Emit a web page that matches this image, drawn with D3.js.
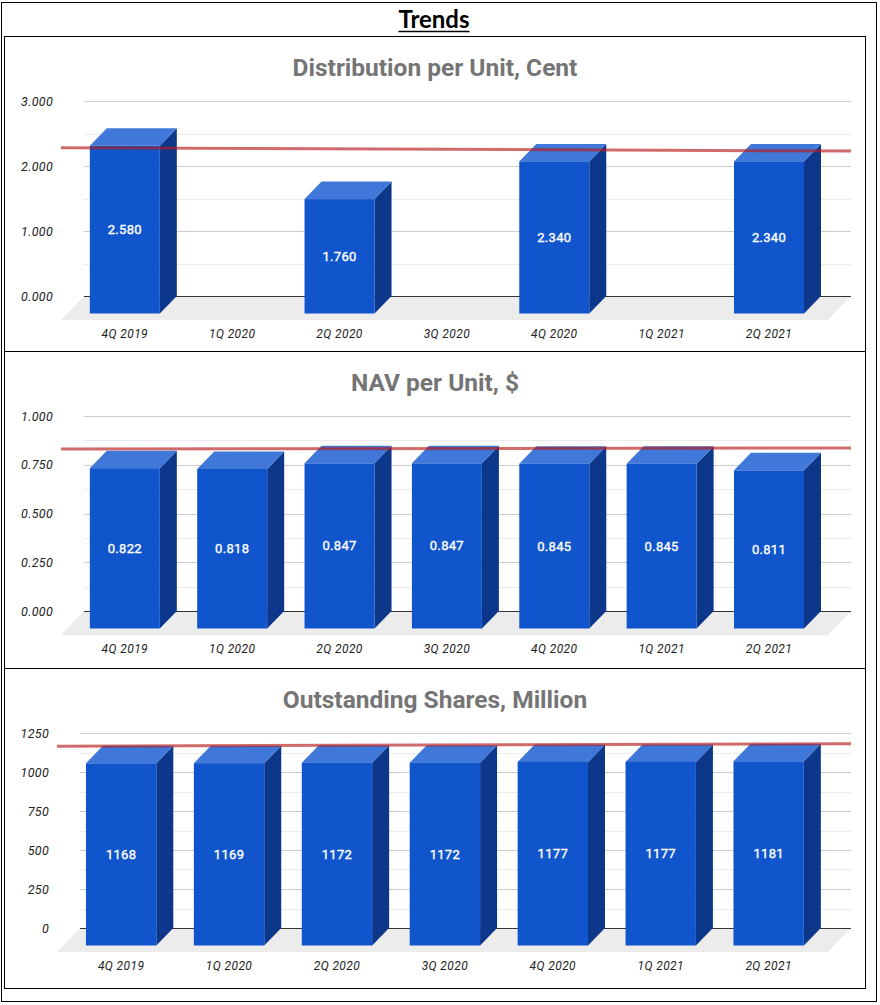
<!DOCTYPE html>
<html>
<head>
<meta charset="utf-8">
<script src="https://cdn.jsdelivr.net/npm/d3@7"></script>
<style>
  body { margin: 0; background: #fff; }
  svg { display: block; }
</style>
</head>
<body>
<div id="chart"></div>
<script>
// Chart data
var categories = ["4Q 2019", "1Q 2020", "2Q 2020", "3Q 2020", "4Q 2020", "1Q 2021", "2Q 2021"];
var distValues = [2.580, null, 1.760, null, 2.340, null, 2.340];
var navValues = [0.822, 0.818, 0.847, 0.847, 0.845, 0.845, 0.811];
var shareValues = [1168, 1169, 1172, 1172, 1177, 1177, 1181];

var distTicks = [0, 1, 2, 3];
var navTicks = [0, 0.25, 0.5, 0.75, 1];
var shareTicks = [0, 250, 500, 750, 1000, 1250];

var titles = ["Distribution per Unit, Cent", "NAV per Unit, $", "Outstanding Shares, Million"];

// Page size
var width = 880, height = 1005;

var svg = d3.select("#chart").append("svg")
    .attr("width", width)
    .attr("height", height);

// Outer frame
svg.append("rect")
    .attr("x", 1.5).attr("y", 2.5)
    .attr("width", 875).attr("height", 999)
    .attr("fill", "none").attr("stroke", "#000").attr("stroke-width", 1);

// Main heading
var heading = svg.append("text")
    .attr("x", 434).attr("y", 28)
    .attr("text-anchor", "middle")
    .attr("font-family", "Lato, 'Open Sans', sans-serif")
    .attr("font-weight", "bold")
    .attr("font-size", 24)
    .attr("fill", "#000")
    .text("Trends");
var hb = heading.node().getBBox();
svg.append("line")
    .attr("x1", hb.x).attr("x2", hb.x + hb.width)
    .attr("y1", 31.5).attr("y2", 31.5)
    .attr("stroke", "#000").attr("stroke-width", 1.6);

// 3D offsets (front face relative to back face, floor depth)
var barDx = -17, barDy = 17.5;
var floorDx = -23, floorDy = 24;

var colFront = "#1155cc", colTop = "#3f78d8", colSide = "#0c378a";

function drawPanel(opts) {
    var top = opts.top;
    var g = svg.append("g");

    // panel border
    g.append("rect")
        .attr("x", 4.5).attr("y", top + 0.5)
        .attr("width", 861).attr("height", opts.bottom - top)
        .attr("fill", "#fff").attr("stroke", "#000").attr("stroke-width", 1);

    // title
    g.append("text")
        .attr("x", 435).attr("y", top + 40)
        .attr("text-anchor", "middle")
        .attr("font-family", "Roboto, sans-serif")
        .attr("font-weight", "bold")
        .attr("font-size", 24.5)
        .attr("fill", "#757575")
        .text(opts.title);

    var plotLeft = opts.plotLeft, plotRight = 851;
    var y0px = top + 260, y1px = top + 65;
    var ticks = opts.ticks;

    var y = d3.scaleLinear()
        .domain([0, ticks[ticks.length - 1]])
        .range([y0px, y1px]);

    var x = d3.scaleBand()
        .domain(categories)
        .range([plotLeft, plotRight])
        .paddingInner(0.348)
        .paddingOuter(0.246)
        .align(0.432);
    var bw = x.bandwidth();

    // floor
    g.append("polygon")
        .attr("points", [
            [plotLeft, y0px], [plotRight, y0px],
            [plotRight + floorDx, y0px + floorDy], [plotLeft + floorDx, y0px + floorDy]
        ].join(" "))
        .attr("fill", "#ececec");

    // minor gridlines halfway between ticks
    var minor = d3.pairs(ticks).map(function (p) { return (p[0] + p[1]) / 2; });
    g.selectAll(".minor")
        .data(minor)
        .join("line")
        .attr("x1", plotLeft).attr("x2", plotRight)
        .attr("y1", function (d) { return Math.round(y(d)) + 0.5; })
        .attr("y2", function (d) { return Math.round(y(d)) + 0.5; })
        .attr("stroke", "#ebebeb");

    // major gridlines
    g.selectAll(".major")
        .data(ticks.slice(1))
        .join("line")
        .attr("x1", plotLeft).attr("x2", plotRight)
        .attr("y1", function (d) { return Math.round(y(d)) + 0.5; })
        .attr("y2", function (d) { return Math.round(y(d)) + 0.5; })
        .attr("stroke", "#cccccc");

    // baseline
    g.append("line")
        .attr("x1", plotLeft).attr("x2", plotRight)
        .attr("y1", Math.round(y0px) + 0.5).attr("y2", Math.round(y0px) + 0.5)
        .attr("stroke", "#333");

    // y axis labels
    g.selectAll(".ylab")
        .data(ticks)
        .join("text")
        .attr("x", plotLeft - 31)
        .attr("y", function (d) { return y(d) + 4.5; })
        .attr("text-anchor", "end")
        .attr("font-family", "Roboto, sans-serif")
        .attr("font-style", "italic")
        .attr("font-size", 12.5)
        .attr("letter-spacing", 0.3)
        .attr("fill", "#222")
        .text(function (d) { return d3.format(opts.fmt)(d); });

    // x axis labels
    g.selectAll(".xlab")
        .data(categories)
        .join("text")
        .attr("x", function (d) { return x(d) + barDx + bw / 2; })
        .attr("y", y0px + 41.5)
        .attr("text-anchor", "middle")
        .attr("font-family", "Roboto, sans-serif")
        .attr("font-style", "italic")
        .attr("font-size", 12)
        .attr("letter-spacing", 0.4)
        .attr("fill", "#222")
        .text(function (d) { return d; });

    var data = categories.map(function (c, i) { return { cat: c, i: i, v: opts.values[i] }; })
        .filter(function (d) { return d.v != null; });

    var bars = g.selectAll(".bar")
        .data(data)
        .join("g")
        .attr("class", "bar");

    // side face
    bars.append("polygon")
        .attr("points", function (d) {
            var bx = x(d.cat) + bw, yv = y(d.v);
            return [[bx, yv], [bx, y0px], [bx + barDx, y0px + barDy], [bx + barDx, yv + barDy]].join(" ");
        })
        .attr("fill", colSide);

    // top face
    bars.append("polygon")
        .attr("points", function (d) {
            var bx = x(d.cat), yv = y(d.v);
            return [[bx, yv], [bx + bw, yv], [bx + bw + barDx, yv + barDy], [bx + barDx, yv + barDy]].join(" ");
        })
        .attr("fill", colTop);

    // front face
    bars.append("rect")
        .attr("x", function (d) { return x(d.cat) + barDx; })
        .attr("y", function (d) { return y(d.v) + barDy; })
        .attr("width", bw)
        .attr("height", function (d) { return y0px - y(d.v); })
        .attr("fill", colFront);

    // linear trend line over the category index
    var mx = d3.mean(data, function (d) { return d.i; });
    var my = d3.mean(data, function (d) { return d.v; });
    var sxy = d3.sum(data, function (d) { return (d.i - mx) * (d.v - my); });
    var sxx = d3.sum(data, function (d) { return (d.i - mx) * (d.i - mx); });
    var slope = sxy / sxx, icpt = my - slope * mx;
    var c0 = x(categories[0]) + bw / 2, step = x.step();
    var trendAt = function (px) { return y(icpt + slope * (px - c0) / step); };
    var xa = plotLeft + floorDx, xb = plotRight;
    g.append("line")
        .attr("x1", xa).attr("y1", trendAt(xa))
        .attr("x2", xb).attr("y2", trendAt(xb))
        .attr("stroke", "#b71c1c")
        .attr("stroke-opacity", 0.65)
        .attr("stroke-width", 3);

    // value labels
    bars.append("text")
        .attr("x", function (d) { return x(d.cat) + barDx + bw / 2; })
        .attr("y", function (d) { return (y(d.v) + barDy + y0px + barDy) / 2 + 4.5; })
        .attr("text-anchor", "middle")
        .attr("font-family", "Roboto, sans-serif")
        .attr("font-weight", 400)
        .attr("font-size", 13)
        .attr("letter-spacing", 0.3)
        .attr("fill", "#fff")
        .attr("stroke", "#fff")
        .attr("stroke-width", 0.35)
        .text(function (d) { return d3.format(opts.fmt)(d.v); });
}

drawPanel({ top: 36, bottom: 351, plotLeft: 84, title: titles[0], values: distValues, ticks: distTicks, fmt: ".3f" });
drawPanel({ top: 351, bottom: 668, plotLeft: 84, title: titles[1], values: navValues, ticks: navTicks, fmt: ".3f" });
drawPanel({ top: 668, bottom: 988, plotLeft: 80, title: titles[2], values: shareValues, ticks: shareTicks, fmt: "d" });
</script>
</body>
</html>
